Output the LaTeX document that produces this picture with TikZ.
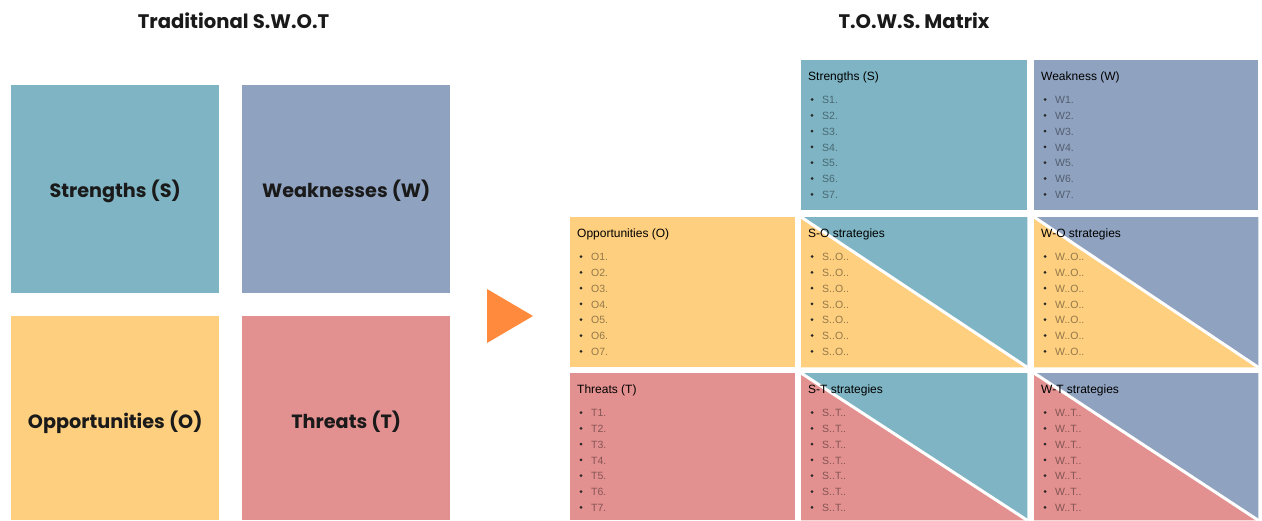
\documentclass[tikz,border=0pt]{standalone}
\usepackage{fontspec}
\setmainfont{Liberation Sans}
\newfontfamily\headfont{Poppins}
\definecolor{sCol}{HTML}{7EB4C3}
\definecolor{wCol}{HTML}{8FA2BF}
\definecolor{oCol}{HTML}{FDCF7E}
\definecolor{tCol}{HTML}{E39190}
\definecolor{arrowCol}{HTML}{FF8A3D}
\definecolor{inkCol}{HTML}{1A1A1A}
\tikzset{
  title/.style={font=\headfont\bfseries\fontsize{19.6}{22}\selectfont, text=inkCol},
  swotbox/.style={rectangle, inner sep=0, anchor=north west, minimum width=208},
  swotlabel/.style={font=\headfont\bfseries\fontsize{19.2}{22}\selectfont, text=inkCol},
  cellbox/.style={rectangle, inner sep=0, anchor=north west},
  cellhead/.style={anchor=west, inner sep=0, font=\fontsize{12}{14}\selectfont, text=black},
  bulletdot/.style={circle, fill=black!85, inner sep=0, minimum size=3},
  itemtext/.style={anchor=west, inner sep=0, font=\fontsize{10.5}{12}\selectfont, text=black, text opacity=0.42},
  divider/.style={white, line width=3}
}
% header plus seven bullet items in a matrix cell
\newcommand\celllist[3]{%
  \node[cellhead] (#1-head) at ([xshift=7,yshift=-17]#1.north west) {#2};
  \foreach \i in {1,...,7}{%
    \node[bulletdot] (#1-b\i) at ([xshift=11,yshift={-39.5-15.8*(\i-1)}]#1.north west) {};
    \node[itemtext] (#1-t\i) at ([xshift=21,yshift={-40-15.8*(\i-1)}]#1.north west) {#3};
  }%
}
\begin{document}
\begin{tikzpicture}[x=1pt,y=-1pt]
\useasboundingbox[fill=white] (0,0) rectangle (1262,520);

% ---- traditional grid ----
\node[title] (swotTitle) at (233.5,21) {Traditional S.W.O.T};
\node[swotbox, fill=sCol, minimum height=208] (S) at (11,85) {};
\node[swotbox, fill=wCol, minimum height=208] (W) at (242,85) {};
\node[swotbox, fill=oCol, minimum height=204] (O) at (11,316) {};
\node[swotbox, fill=tCol, minimum height=204] (T) at (242,316) {};
\node[swotlabel] (Slab) at ([yshift=-2]S.center) {Strengths (S)};
\node[swotlabel] (Wlab) at ([yshift=-2]W.center) {Weaknesses (W)};
\node[swotlabel] (Olab) at ([yshift=-4]O.center) {Opportunities (O)};
\node[swotlabel] (Tlab) at ([yshift=-4]T.center) {Threats (T)};

% ---- arrow ----
\fill[arrowCol] (487,289) -- (533,316) -- (487,343) -- cycle;

% ---- TOWS matrix ----
\node[title] (towsTitle) at (914,21) {T.O.W.S. Matrix};
\node[cellbox, fill=sCol, minimum width=226, minimum height=150] (mS) at (801,60) {};
\node[cellbox, fill=wCol, minimum width=224, minimum height=150] (mW) at (1034,60) {};
\node[cellbox, fill=oCol, minimum width=225, minimum height=150] (mO) at (570,217) {};
\node[cellbox, fill=tCol, minimum width=225, minimum height=147] (mT) at (570,373) {};
\node[cellbox, minimum width=226, minimum height=150] (SO) at (801,217) {};
\node[cellbox, minimum width=224, minimum height=150] (WO) at (1034,217) {};
\node[cellbox, minimum width=226, minimum height=147] (ST) at (801,373) {};
\node[cellbox, minimum width=224, minimum height=147] (WT) at (1034,373) {};

% split strategy cells: column colour above the diagonal, row colour below
\foreach \c/\up/\lo in {SO/sCol/oCol, WO/wCol/oCol, ST/sCol/tCol, WT/wCol/tCol}{
  \fill[\up] (\c.north west) -- (\c.north east) -- (\c.south east) -- cycle;
  \fill[\lo] (\c.north west) -- (\c.south west) -- (\c.south east) -- cycle;
  \draw[divider] (\c.north west) -- (\c.south east);
}

\celllist{mS}{Strengths (S)}{S\i.}
\celllist{mW}{Weakness (W)}{W\i.}
\celllist{mO}{Opportunities (O)}{O\i.}
\celllist{mT}{Threats (T)}{T\i.}
\celllist{SO}{S-O strategies}{S..O..}
\celllist{WO}{W-O strategies}{W..O..}
\celllist{ST}{S-T strategies}{S..T..}
\celllist{WT}{W-T strategies}{W..T..}
\end{tikzpicture}
\end{document}
